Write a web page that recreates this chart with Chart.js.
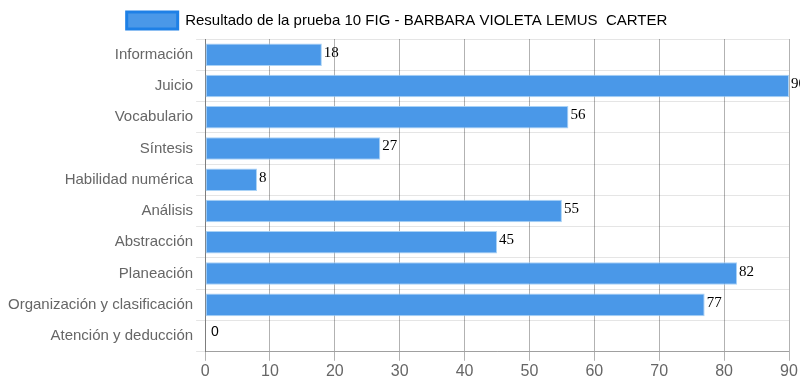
<!DOCTYPE html>
<html>
<head>
<meta charset="utf-8">
<script src="https://cdn.jsdelivr.net/npm/chart.js@4"></script>
<style>
    html, body { margin: 0; padding: 0; background: #fff; }
    #wrap { width: 800px; height: 386px; }
</style>
</head>
<body>
<div id="wrap"><canvas id="resultChart"></canvas></div>
<script>
const categories = [
    'Información', 'Juicio', 'Vocabulario', 'Síntesis', 'Habilidad numérica',
    'Análisis', 'Abstracción', 'Planeación', 'Organización y clasificación', 'Atención y deducción'
];
const scores = [18, 90, 56, 27, 8, 55, 45, 82, 77, 0];
const xTicks = [0, 10, 20, 30, 40, 50, 60, 70, 80, 90];
const seriesName = 'Resultado de la prueba 10 FIG - BARBARA VIOLETA LEMUS  CARTER';

Chart.defaults.font.family = "'Liberation Sans', Arial, sans-serif";
Chart.defaults.font.size = 15;
Chart.defaults.color = '#666';

// draws the value next to each bar
const valueLabels = {
    id: 'valueLabels',
    afterDatasetsDraw(chart) {
        const ctx = chart.ctx;
        const meta = chart.getDatasetMeta(0);
        ctx.save();
        ctx.fillStyle = '#000';
        ctx.textAlign = 'left';
        ctx.textBaseline = 'alphabetic';
        meta.data.forEach((bar, i) => {
            const v = chart.data.datasets[0].data[i];
            if (v === 0) {
                ctx.font = "14px 'Liberation Sans', Arial, sans-serif";
                ctx.fillText(v, bar.x + 6, bar.y);
            } else {
                ctx.font = "15px 'Liberation Serif', 'Times New Roman', serif";
                ctx.fillText(v, bar.x + 2, bar.y + 2);
            }
        });
        ctx.restore();
    }
};

new Chart(document.getElementById('resultChart').getContext('2d'), {
    type: 'bar',
    data: {
        labels: categories,
        datasets: [{
            label: seriesName,
            data: scores,
            backgroundColor: '#4a98e8',
            borderColor: 'rgba(160, 205, 245, 0.9)',
            borderWidth: 1,
            borderSkipped: false
        }]
    },
    options: {
        indexAxis: 'y',
        responsive: true,
        maintainAspectRatio: false,
        animation: false,
        layout: { padding: { right: 11, left: 5, top: 1, bottom: 4 } },
        plugins: {
            legend: {
                labels: {
                    boxWidth: 51,
                    boxHeight: 17,
                    padding: 11,
                    color: '#666',
                    font: { size: 15 },
                    generateLabels: (chart) => [{
                        text: seriesName,
                        fillStyle: '#4a98e8',
                        strokeStyle: '#1e80e6',
                        lineWidth: 3,
                        datasetIndex: 0
                    }]
                }
            },
            tooltip: { enabled: false }
        },
        scales: {
            x: {
                min: 0,
                max: 90,
                z: 1,
                afterBuildTicks: (scale) => { scale.ticks = xTicks.map(v => ({ value: v })); },
                grid: {
                    color: 'rgba(0, 0, 0, 0.3)',
                    tickLength: 9
                },
                border: { color: 'rgba(0, 0, 0, 0.3)' },
                ticks: { color: '#666', padding: 1, font: { size: 16 } }
            },
            y: {
                grid: {
                    color: 'rgba(0, 0, 0, 0.1)',
                    offset: true,
                    tickLength: 9
                },
                border: { color: 'rgba(0, 0, 0, 0.3)' },
                ticks: { color: '#666', font: { size: 15 } }
            }
        }
    },
    plugins: [valueLabels]
});
</script>
</body>
</html>
